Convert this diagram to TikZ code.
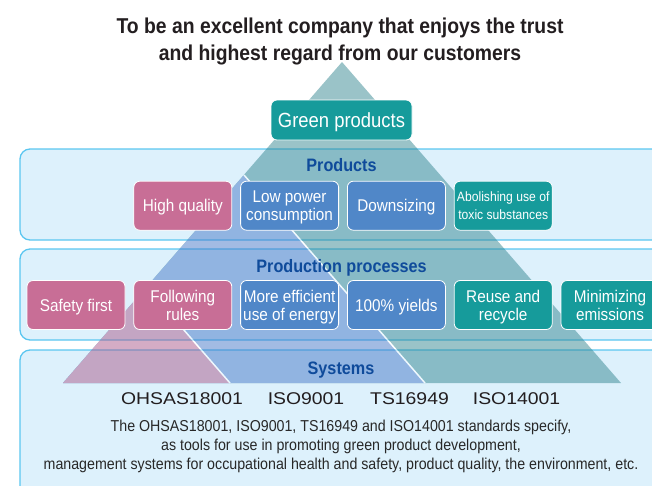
\documentclass[tikz,border=0pt]{standalone}
\usepackage{fontspec}
\setmainfont{Liberation Sans}
\newfontfamily\condfont[FakeStretch=0.9]{Liberation Sans}
\newfontfamily\widefont[FakeStretch=1.14]{Liberation Sans}
\usetikzlibrary{positioning}
\definecolor{bandfill}{RGB}{221,241,252}
\definecolor{bandline}{RGB}{90,198,240}
\definecolor{boxpink}{RGB}{200,110,150}
\definecolor{boxblue}{RGB}{80,135,200}
\definecolor{boxteal}{RGB}{22,155,155}
\definecolor{headblue}{RGB}{15,75,155}
\definecolor{titlecol}{RGB}{35,30,32}
\definecolor{desccol}{RGB}{40,40,40}
\definecolor{triteal}{RGB}{53,135,145}
\definecolor{triblue}{RGB}{70,120,200}
\definecolor{tripink}{RGB}{170,90,140}
\tikzset{node distance=8pt, font=\condfont\fontsize{17}{18}\selectfont}
\tikzstyle{band} = [draw=bandline, fill=bandfill, line width=1.3pt, rounded corners=10pt]
\tikzstyle{block} = [draw=white, line width=0.8pt, rounded corners=6pt, minimum width=98pt, minimum height=49pt, inner sep=0pt, text depth=0pt, text=white, align=center]
\tikzstyle{pinkblock} = [block, fill=boxpink]
\tikzstyle{blueblock} = [block, fill=boxblue]
\tikzstyle{tealblock} = [block, fill=boxteal]
\tikzstyle{heading} = [text=headblue, text depth=0pt, font=\condfont\bfseries\fontsize{18}{18}\selectfont]
\tikzstyle{standard} = [text=titlecol, font=\widefont\fontsize{17}{18}\selectfont]
\tikzstyle{divider} = [draw=white, line width=1.5pt]

\begin{document}
\begin{tikzpicture}[x=1pt, y=-1pt]
    \useasboundingbox (0,0) rectangle (652,485);

    % the three bands
    \draw [band] (20,149) rectangle (664,240);
    \draw [band] (20,249) rectangle (664,340);
    \draw [band] (20,350) rectangle (664,497);

    % pyramid
    \coordinate (base_l) at (63,383);
    \coordinate (top_t) at (342,62);
    \coordinate (base_t) at (621,383);
    \coordinate (top_b) at (244,175);
    \coordinate (base_b) at (425,383);
    \coordinate (top_p) at (146.5,287);
    \coordinate (base_p) at (230,383);
    \begin{scope}[transparency group, opacity=0.5]
        \fill [triteal] (base_l) -- (top_t) -- (base_t) -- cycle;
        \fill [triblue] (base_l) -- (top_b) -- (base_b) -- cycle;
        \draw [divider] (top_b) -- (base_b);
        \fill [tripink] (base_l) -- (top_p) -- (base_p) -- cycle;
        \draw [divider] (top_p) -- (base_p);
    \end{scope}

    \node [font=\condfont\bfseries\fontsize{21.5}{27}\selectfont, text=titlecol, text depth=0pt, align=center] (title) at (340,39) {To be an excellent company that enjoys the trust\\and highest regard from our customers};
    \node [tealblock, minimum width=141pt, minimum height=40pt, font=\condfont\fontsize{20.5}{22}\selectfont] (green) at (341.5,120) {Green products};

    \node [heading] (products) at (341.5,165) {Products};
    \node [heading] (processes) at (341.5,266) {Production processes};
    \node [heading] (systems) at (341,368) {Systems};

    % production processes
    \node [pinkblock] (safety) at (76,305) {Safety first};
    \node [pinkblock, right=of safety] (rules) {Following\\rules};
    \node [blueblock, right=of rules] (energy) {More efficient\\use of energy};
    \node [blueblock, right=of energy] (yields) {100\% yields};
    \node [tealblock, right=of yields] (recycle) {Reuse and\\recycle};
    \node [tealblock, right=of recycle] (emissions) {Minimizing\\emissions};

    % products
    \node [pinkblock, above=49.5pt of rules] (quality) {High quality};
    \node [blueblock, right=of quality] (lowpower) {Low power\\consumption};
    \node [blueblock, right=of lowpower] (downsize) {Downsizing};
    \node [tealblock, right=of downsize, font=\condfont\fontsize{13.5}{18}\selectfont] (toxic) {Abolishing use of\\toxic substances};

    % systems
    \node [standard] (ohsas) at (182,399) {OHSAS18001};
    \node [standard] (iso9001) at (306,399) {ISO9001};
    \node [standard] (ts16949) at (409.5,399) {TS16949};
    \node [standard] (iso14001) at (516.5,399) {ISO14001};
    \node [font=\condfont\fontsize{15.8}{19}\selectfont, text=desccol, align=center] (desc) at (341,446) {The OHSAS18001, ISO9001, TS16949 and ISO14001 standards specify,\\as tools for use in promoting green product development,\\management systems for occupational health and safety, product quality, the environment, etc.};
\end{tikzpicture}
\end{document}
